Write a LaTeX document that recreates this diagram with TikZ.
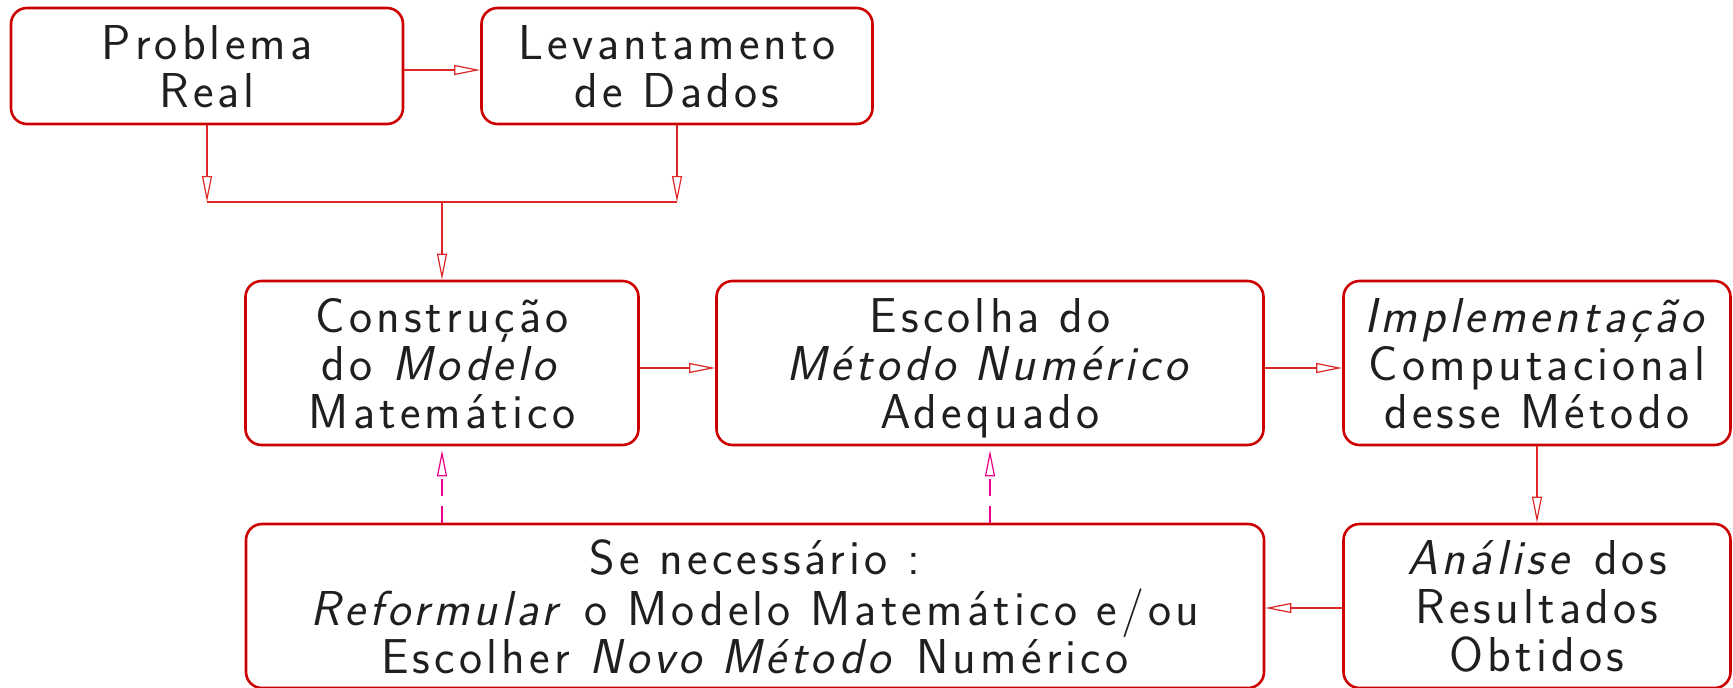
\documentclass[tikz,border=0pt]{standalone}
\usepackage{fontspec}
\usetikzlibrary{arrows.meta,positioning}
\newfontfamily\fontecaixa{lmsans17-regular.otf}[ItalicFont=lmsans17-oblique.otf, LetterSpace=8.5]
\definecolor{borda}{RGB}{204,0,0}
\definecolor{fio}{RGB}{222,40,40}
% texto das caixas, um pouco abaixo do centro
\newcommand{\texto}[1]{\raisebox{0pt}[\height][\dimexpr\depth-15pt\relax]{%
    \fontecaixa\fontsize{49}{47}\selectfont
    \begin{tabular}{@{}c@{}}#1\end{tabular}}}
\tikzset{
    bloco/.style={draw=borda, line width=2.6pt, rounded corners=16pt, align=center,
        text=black!88, inner sep=0pt},
    seta/.style={draw=fio, line width=1.2pt, -{Triangle[open, length=26pt, width=10pt]}},
    linha/.style={draw=fio, line width=1.2pt},
    retorno/.style={seta, draw=magenta, dash pattern=on 17pt off 10pt, shorten >=4pt}
}

\begin{document}
\begin{tikzpicture}[x=1pt, y=-1pt]
    \useasboundingbox (0, 0) rectangle (1733, 688);

    % linha de cima
    \node[bloco, minimum width=392pt, minimum height=116pt] (prob) at (207, 66) {\texto{Problema\\Real}};
    \node[bloco, minimum width=391pt, minimum height=116pt] (lev) at (677, 66) {\texto{Levantamento\\de Dados}};

    % linha do meio
    \node[bloco, minimum width=393pt, minimum height=164pt] (cons) at (442, 363)
        {\texto{Construção\\do \textit{Modelo}\\Matemático}};
    \node[bloco, minimum width=547pt, minimum height=164pt] (esc) at (990, 363)
        {\texto{Escolha do\\\textit{Método Numérico}\\Adequado}};
    \node[bloco, minimum width=387pt, minimum height=164pt] (impl) at (1537, 363)
        {\texto{\textit{Implementação}\\Computacional\\desse Método}};

    % linha de baixo
    \node[bloco, minimum width=1018pt, minimum height=164pt] (se) at (755, 606)
        {\texto{Se necessário :\\\textit{Reformular} o Modelo Matemático e/ou\\Escolher \textit{Novo Método} Numérico}};
    \node[bloco, minimum width=387pt, minimum height=164pt] (ana) at (1537, 606)
        {\texto{\textit{Análise} dos\\Resultados\\Obtidos}};

    \coordinate (juncao) at (442, 202);

    \draw[seta] ([yshift=-4pt]prob.east) -- ([yshift=-4pt]lev.west);
    \draw[seta] (prob) -- (prob |- juncao);
    \draw[seta] (lev) -- (lev |- juncao);
    \draw[linha] (prob |- juncao) -- (lev |- juncao);
    \draw[seta] (juncao) -- (cons);

    \draw[seta] ([yshift=-5pt]cons.east) -- ([yshift=-5pt]esc.west);
    \draw[seta] ([yshift=-5pt]esc.east) -- ([yshift=-5pt]impl.west);
    \draw[seta] (impl) -- (ana);
    \draw[seta] ([yshift=-2pt]ana.west) -- ([yshift=-2pt]se.east);

    \draw[retorno] (se.north -| cons) -- (cons.south);
    \draw[retorno] (se.north -| esc) -- (esc.south);
\end{tikzpicture}
\end{document}
